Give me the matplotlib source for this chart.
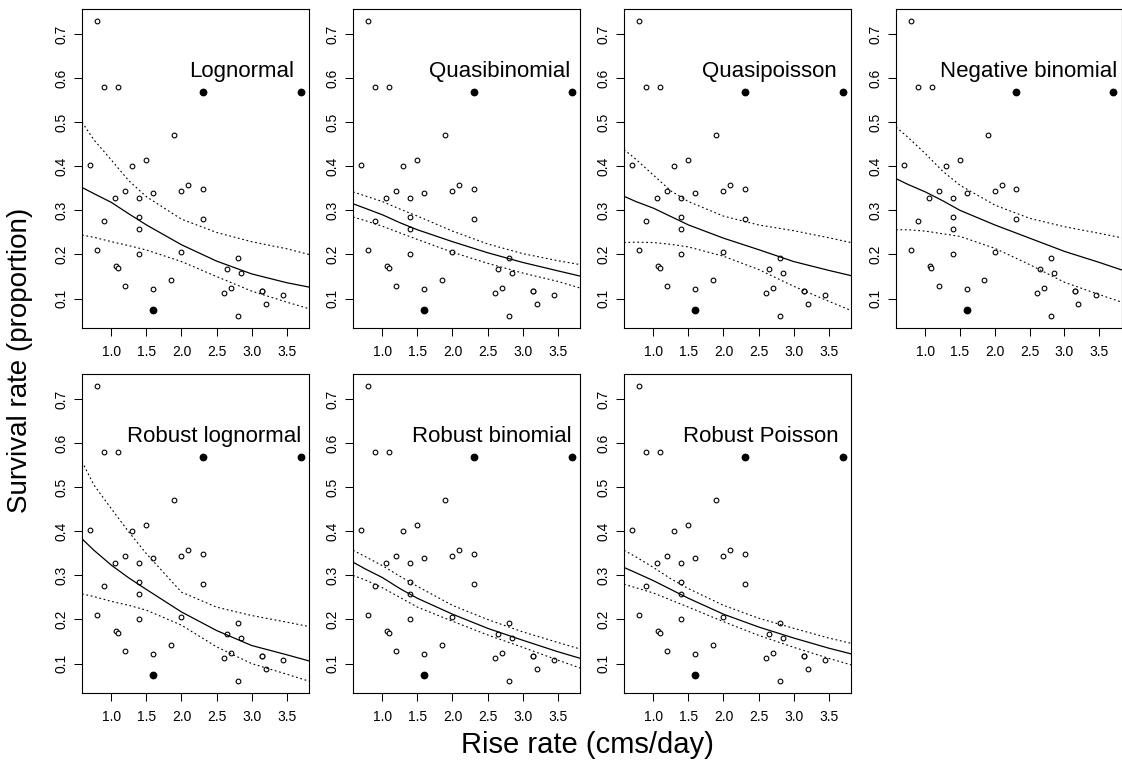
import matplotlib
matplotlib.use("Agg")
import matplotlib.pyplot as plt

plt.rcParams["font.family"] = ["Liberation Sans", "DejaVu Sans"]

# observed data: rise rate (cms/day) vs survival proportion
rise = [0.8, 0.9, 1.1, 1.9, 0.7, 1.3, 1.5, 1.2, 1.05, 1.4, 1.6, 2.0, 2.1, 2.3,
        2.3, 0.9, 1.4, 1.4, 0.8, 1.4, 2.0, 1.07, 1.09, 1.2, 1.6, 1.85, 2.6,
        2.65, 2.7, 2.8, 2.85, 2.8, 3.15, 3.15, 3.2, 3.45]
survival = [0.73, 0.58, 0.58, 0.47, 0.404, 0.40, 0.414, 0.344, 0.328, 0.328,
            0.339, 0.344, 0.357, 0.349, 0.281, 0.276, 0.285, 0.257, 0.211,
            0.200, 0.206, 0.173, 0.170, 0.128, 0.122, 0.141, 0.113, 0.168,
            0.125, 0.193, 0.157, 0.060, 0.116, 0.117, 0.087, 0.108]

# points flagged (filled)
rise_flag = [2.3, 3.7, 1.6]
survival_flag = [0.568, 0.568, 0.073]

models = ["Lognormal", "Quasibinomial", "Quasipoisson", "Negative binomial",
          "Robust lognormal", "Robust binomial", "Robust Poisson"]

# fitted curves
x_fit = [0.58, 0.75, 1.0, 1.25, 1.5, 2.0, 2.5, 3.0, 3.5, 3.82]
fit = {
    "Lognormal":         [0.352, 0.338, 0.318, 0.292, 0.267, 0.222, 0.185, 0.156, 0.136, 0.126],
    "Quasibinomial":     [0.315, 0.305, 0.290, 0.272, 0.256, 0.229, 0.204, 0.182, 0.163, 0.151],
    "Quasipoisson":      [0.332, 0.320, 0.305, 0.286, 0.267, 0.237, 0.211, 0.184, 0.164, 0.152],
    "Negative binomial": [0.372, 0.359, 0.342, 0.322, 0.300, 0.267, 0.237, 0.207, 0.182, 0.165],
    "Robust lognormal":  [0.383, 0.357, 0.323, 0.294, 0.268, 0.217, 0.175, 0.141, 0.120, 0.106],
    "Robust binomial":   [0.330, 0.315, 0.295, 0.270, 0.248, 0.212, 0.180, 0.153, 0.127, 0.112],
    "Robust Poisson":    [0.318, 0.306, 0.288, 0.268, 0.248, 0.212, 0.183, 0.158, 0.135, 0.122],
}
upper = {
    "Lognormal":         [0.500, 0.460, 0.414, 0.367, 0.331, 0.280, 0.250, 0.229, 0.213, 0.200],
    "Quasibinomial":     [0.342, 0.333, 0.320, 0.303, 0.287, 0.253, 0.224, 0.202, 0.186, 0.177],
    "Quasipoisson":      [0.438, 0.416, 0.380, 0.344, 0.320, 0.287, 0.267, 0.254, 0.238, 0.227],
    "Negative binomial": [0.489, 0.466, 0.429, 0.389, 0.357, 0.312, 0.282, 0.263, 0.248, 0.238],
    "Robust lognormal":  [0.558, 0.505, 0.451, 0.398, 0.349, 0.262, 0.228, 0.209, 0.194, 0.184],
    "Robust binomial":   [0.357, 0.343, 0.322, 0.298, 0.275, 0.232, 0.200, 0.172, 0.148, 0.133],
    "Robust Poisson":    [0.357, 0.342, 0.318, 0.292, 0.270, 0.232, 0.203, 0.180, 0.158, 0.146],
}
lower = {
    "Lognormal":         [0.244, 0.239, 0.229, 0.220, 0.210, 0.184, 0.150, 0.117, 0.092, 0.077],
    "Quasibinomial":     [0.285, 0.277, 0.264, 0.249, 0.234, 0.205, 0.180, 0.158, 0.139, 0.124],
    "Quasipoisson":      [0.227, 0.228, 0.227, 0.223, 0.217, 0.196, 0.166, 0.128, 0.094, 0.073],
    "Negative binomial": [0.256, 0.256, 0.253, 0.247, 0.241, 0.214, 0.177, 0.137, 0.109, 0.092],
    "Robust lognormal":  [0.258, 0.252, 0.241, 0.232, 0.221, 0.187, 0.138, 0.100, 0.076, 0.060],
    "Robust binomial":   [0.300, 0.290, 0.272, 0.250, 0.228, 0.196, 0.165, 0.137, 0.108, 0.090],
    "Robust Poisson":    [0.280, 0.272, 0.260, 0.244, 0.228, 0.195, 0.164, 0.137, 0.112, 0.097],
}

x_ticks = [1.0, 1.5, 2.0, 2.5, 3.0, 3.5]
y_ticks = [0.1, 0.2, 0.3, 0.4, 0.5, 0.6, 0.7]

W, H = 1122, 768
fig = plt.figure(figsize=(W / 100, H / 100), dpi=100)

# panel boxes in pixels: left, top
col_left = [82, 353, 624, 896]
row_top = [9, 374]
pw, ph = 227, 319
# left edge of each panel title, pixels from the panel's left side
title_left = [107, 76, 78, 44, 45, 59, 59]

for i, name in enumerate(models):
    r, c = divmod(i, 4)
    w = pw if c < 3 else W - col_left[c] - 0.5
    ax = fig.add_axes([col_left[c] / W, 1 - (row_top[r] + ph) / H, w / W, ph / H])
    ax.plot(rise, survival, "o", mfc="white", mec="black", ms=3.4, mew=0.8)
    ax.plot(rise_flag, survival_flag, "o", color="black", ms=4.6)
    ax.plot(x_fit, fit[name], color="black", lw=0.9)
    ax.plot(x_fit, upper[name], color="black", lw=0.8, ls=(0, (1.6, 2.4)))
    ax.plot(x_fit, lower[name], color="black", lw=0.8, ls=(0, (1.6, 2.4)))
    ax.set_xlim(0.58, 3.82)
    ax.set_ylim(0.0332, 0.7568)
    ax.set_xticks(x_ticks)
    ax.set_xticklabels([f"{t:.1f}" for t in x_ticks])
    ax.set_yticks(y_ticks)
    ax.set_yticklabels([f"{t:.1f}" for t in y_ticks])
    ax.tick_params(direction="out", length=6, width=0.75, labelsize=10,
                   colors="black", pad=6)
    ax.tick_params(axis="y", labelrotation=90, pad=4)
    for lab in ax.get_yticklabels():
        lab.set_va("center")
    for s in ax.spines.values():
        s.set_linewidth(0.8)
    ax.text(title_left[i] / w, 0.787, name, transform=ax.transAxes, ha="left",
            va="baseline", fontsize=16)

fig.text(20 / W, 1 - 360 / H, "Survival rate (proportion)", rotation=90,
         ha="center", va="center", fontsize=20)
fig.text(587 / W, 1 - 745 / H, "Rise rate (cms/day)", ha="center",
         va="center", fontsize=21)

fig.savefig("out.png", dpi=100)
